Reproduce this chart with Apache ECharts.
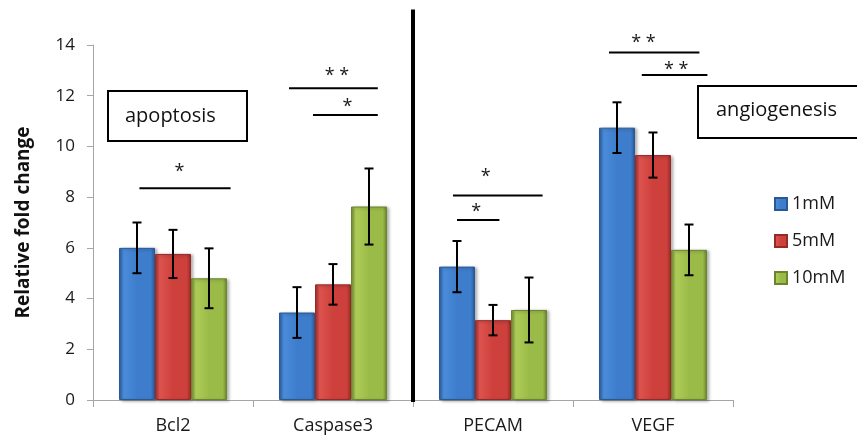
<!DOCTYPE html>
<html>
<head>
<meta charset="utf-8">
<script src="https://cdn.jsdelivr.net/npm/echarts@6/dist/echarts.min.js"></script>
<style>
  html, body { margin: 0; padding: 0; background: #fff; }
  #chart { width: 857px; height: 439px; }
</style>
</head>
<body>
<div id="chart"></div>
<script>
// categories and doses
const categories = ['Bcl2', 'Caspase3', 'PECAM', 'VEGF']
const doses = ['1mM', '5mM', '10mM']
const yTicks = [0, 2, 4, 6, 8, 10, 12, 14]

// mean fold change per dose
const mean1mM = [6.0, 3.45, 5.26, 10.74]
const mean5mM = [5.76, 4.56, 3.15, 9.66]
const mean10mM = [4.8, 7.63, 3.55, 5.92]

// error (+/-) per dose
const err1mM = [1.0, 1.0, 1.01, 1.0]
const err5mM = [0.95, 0.8, 0.6, 0.89]
const err10mM = [1.18, 1.5, 1.28, 1.0]

// significance brackets: [category, from, to (fraction of category), y, star offset, star y, label]
const sigLines = [
  [0, -0.21, 0.36, 8.35, 0.04, 9.15, '*'],
  [1, -0.275, 0.28, 12.29, 0.025, 12.93, '**'],
  [1, -0.125, 0.28, 11.24, 0.09, 11.71, '*'],
  [2, -0.25, 0.31, 8.06, -0.045, 8.95, '*'],
  [2, -0.225, 0.04, 7.10, -0.105, 7.57, '*'],
  [3, -0.275, 0.29, 13.70, -0.06, 14.24, '**'],
  [3, -0.07, 0.34, 12.82, 0.145, 13.17, '**']
]

// thick divider after this category
const dividerAfter = 1
const dividerRange = [0, 15.4]

const means = [mean1mM, mean5mM, mean10mM]
const errs = [err1mM, err5mM, err10mM]

const palette = [
  ['#2b5c9c', '#4a8ddc', '#3d7dcb', '#2a5894'],
  ['#9f2d2a', '#df5450', '#cd403c', '#962a27'],
  ['#6f8a2f', '#aecd58', '#9bbb48', '#6a852c']
]

function barColor (p) {
  return {
    type: 'linear', x: 0, y: 0, x2: 1, y2: 0,
    colorStops: [
      { offset: 0, color: p[0] },
      { offset: 0.12, color: p[1] },
      { offset: 0.5, color: p[2] },
      { offset: 0.88, color: p[2] },
      { offset: 1, color: p[3] }
    ]
  }
}

const font = '"Open Sans", "DejaVu Sans", sans-serif'
const barFrac = 0.225

const barSeries = doses.map((name, k) => ({
  name: name,
  type: 'bar',
  data: means[k],
  barWidth: 36,
  barGap: '0%',
  itemStyle: {
    color: barColor(palette[k]),
    borderColor: palette[k][3],
    borderWidth: 1,
    shadowColor: 'rgba(0,0,0,0.3)',
    shadowBlur: 3,
    shadowOffsetX: 2,
    shadowOffsetY: 1
  }
}))

const errorSeries = doses.map((name, k) => ({
  type: 'custom',
  name: name,
  z: 5,
  silent: true,
  data: categories.map((c, i) => [i, means[k][i], errs[k][i]]),
  renderItem: function (params, api) {
    const i = api.value(0)
    const m = api.value(1)
    const e = api.value(2)
    const w = api.size([1, 0])[0]
    const dx = (k - 1) * barFrac * w
    const top = api.coord([i, m + e])
    const bot = api.coord([i, m - e])
    const x = top[0] + dx
    const cap = 4.5
    const style = { stroke: '#000', lineWidth: 2 }
    return {
      type: 'group',
      children: [
        { type: 'line', shape: { x1: x, y1: top[1], x2: x, y2: bot[1] }, style: style },
        { type: 'line', shape: { x1: x - cap, y1: top[1], x2: x + cap, y2: top[1] }, style: style },
        { type: 'line', shape: { x1: x - cap, y1: bot[1], x2: x + cap, y2: bot[1] }, style: style }
      ]
    }
  }
}))

const sigSeries = {
  type: 'custom',
  z: 6,
  silent: true,
  data: sigLines.map(s => [s[0], s[3]]),
  renderItem: function (params, api) {
    const s = sigLines[params.dataIndex]
    const w = api.size([1, 0])[0]
    const c = api.coord([s[0], s[3]])
    const st = api.coord([s[0], s[5]])
    return {
      type: 'group',
      children: [
        {
          type: 'line',
          shape: { x1: c[0] + s[1] * w, y1: c[1], x2: c[0] + s[2] * w, y2: c[1] },
          style: { stroke: '#000', lineWidth: 2 }
        },
        {
          type: 'text',
          x: st[0] + s[4] * w,
          y: st[1] + 4,
          style: {
            text: s[6].split('').join(' '),
            fontSize: 18,
            fontFamily: font,
            fill: '#1a1a1a',
            align: 'center',
            verticalAlign: 'middle'
          }
        }
      ]
    }
  }
}

const dividerSeries = {
  type: 'custom',
  z: 7,
  silent: true,
  data: [[dividerAfter, dividerRange[0], dividerRange[1]]],
  renderItem: function (params, api) {
    const w = api.size([1, 0])[0]
    const a = api.coord([api.value(0), api.value(1)])
    const b = api.coord([api.value(0), api.value(2)])
    const x = a[0] + w / 2
    return {
      type: 'line',
      shape: { x1: x, y1: a[1] + 2, x2: x, y2: b[1] },
      style: { stroke: '#000', lineWidth: 4 }
    }
  }
}

const chart = echarts.init(document.getElementById('chart'))
chart.setOption({
  animation: false,
  backgroundColor: '#fff',
  grid: { left: 93, right: 124, top: 45, bottom: 39 },
  legend: {
    data: doses,
    orient: 'vertical',
    left: 769,
    top: 190,
    icon: 'rect',
    itemWidth: 12,
    itemHeight: 12,
    itemGap: 19,
    textStyle: { fontSize: 18, fontFamily: font, color: '#1a1a1a', lineHeight: 18 }
  },
  xAxis: {
    type: 'category',
    data: categories,
    axisLine: { lineStyle: { color: '#a6a6a6', width: 1 } },
    axisTick: { show: true, length: 7, lineStyle: { color: '#a6a6a6' } },
    axisLabel: { fontSize: 18, fontFamily: font, color: '#1a1a1a', margin: 17 }
  },
  yAxis: {
    type: 'value',
    min: 0,
    max: yTicks[yTicks.length - 1],
    interval: yTicks[1] - yTicks[0],
    name: 'Relative fold change',
    nameLocation: 'middle',
    nameRotate: 90,
    nameGap: 60,
    nameTextStyle: { fontSize: 19, fontWeight: 'bold', fontFamily: font, color: '#111' },
    axisLine: { show: true, lineStyle: { color: '#a6a6a6', width: 1 } },
    axisTick: { show: true, length: 6, lineStyle: { color: '#a6a6a6' } },
    splitLine: { show: false },
    axisLabel: { fontSize: 17, fontFamily: font, color: '#1a1a1a', margin: 18 }
  },
  graphic: [
    {
      type: 'group',
      left: 107,
      top: 90,
      children: [
        { type: 'rect', shape: { x: 0, y: 0, width: 139, height: 50 }, style: { fill: '#fff', stroke: '#000', lineWidth: 2 } },
        { type: 'text', x: 17, y: 25, style: { text: 'apoptosis', fontSize: 20, fontFamily: font, fill: '#111', verticalAlign: 'middle' } }
      ]
    },
    {
      type: 'group',
      left: 697,
      top: 85,
      children: [
        { type: 'rect', shape: { x: 0, y: 0, width: 180, height: 52 }, style: { fill: '#fff', stroke: '#000', lineWidth: 2 } },
        { type: 'text', x: 18, y: 24, style: { text: 'angiogenesis', fontSize: 20, fontFamily: font, fill: '#111', verticalAlign: 'middle' } }
      ]
    }
  ],
  series: barSeries.concat(errorSeries, [sigSeries, dividerSeries])
})
</script>
</body>
</html>
